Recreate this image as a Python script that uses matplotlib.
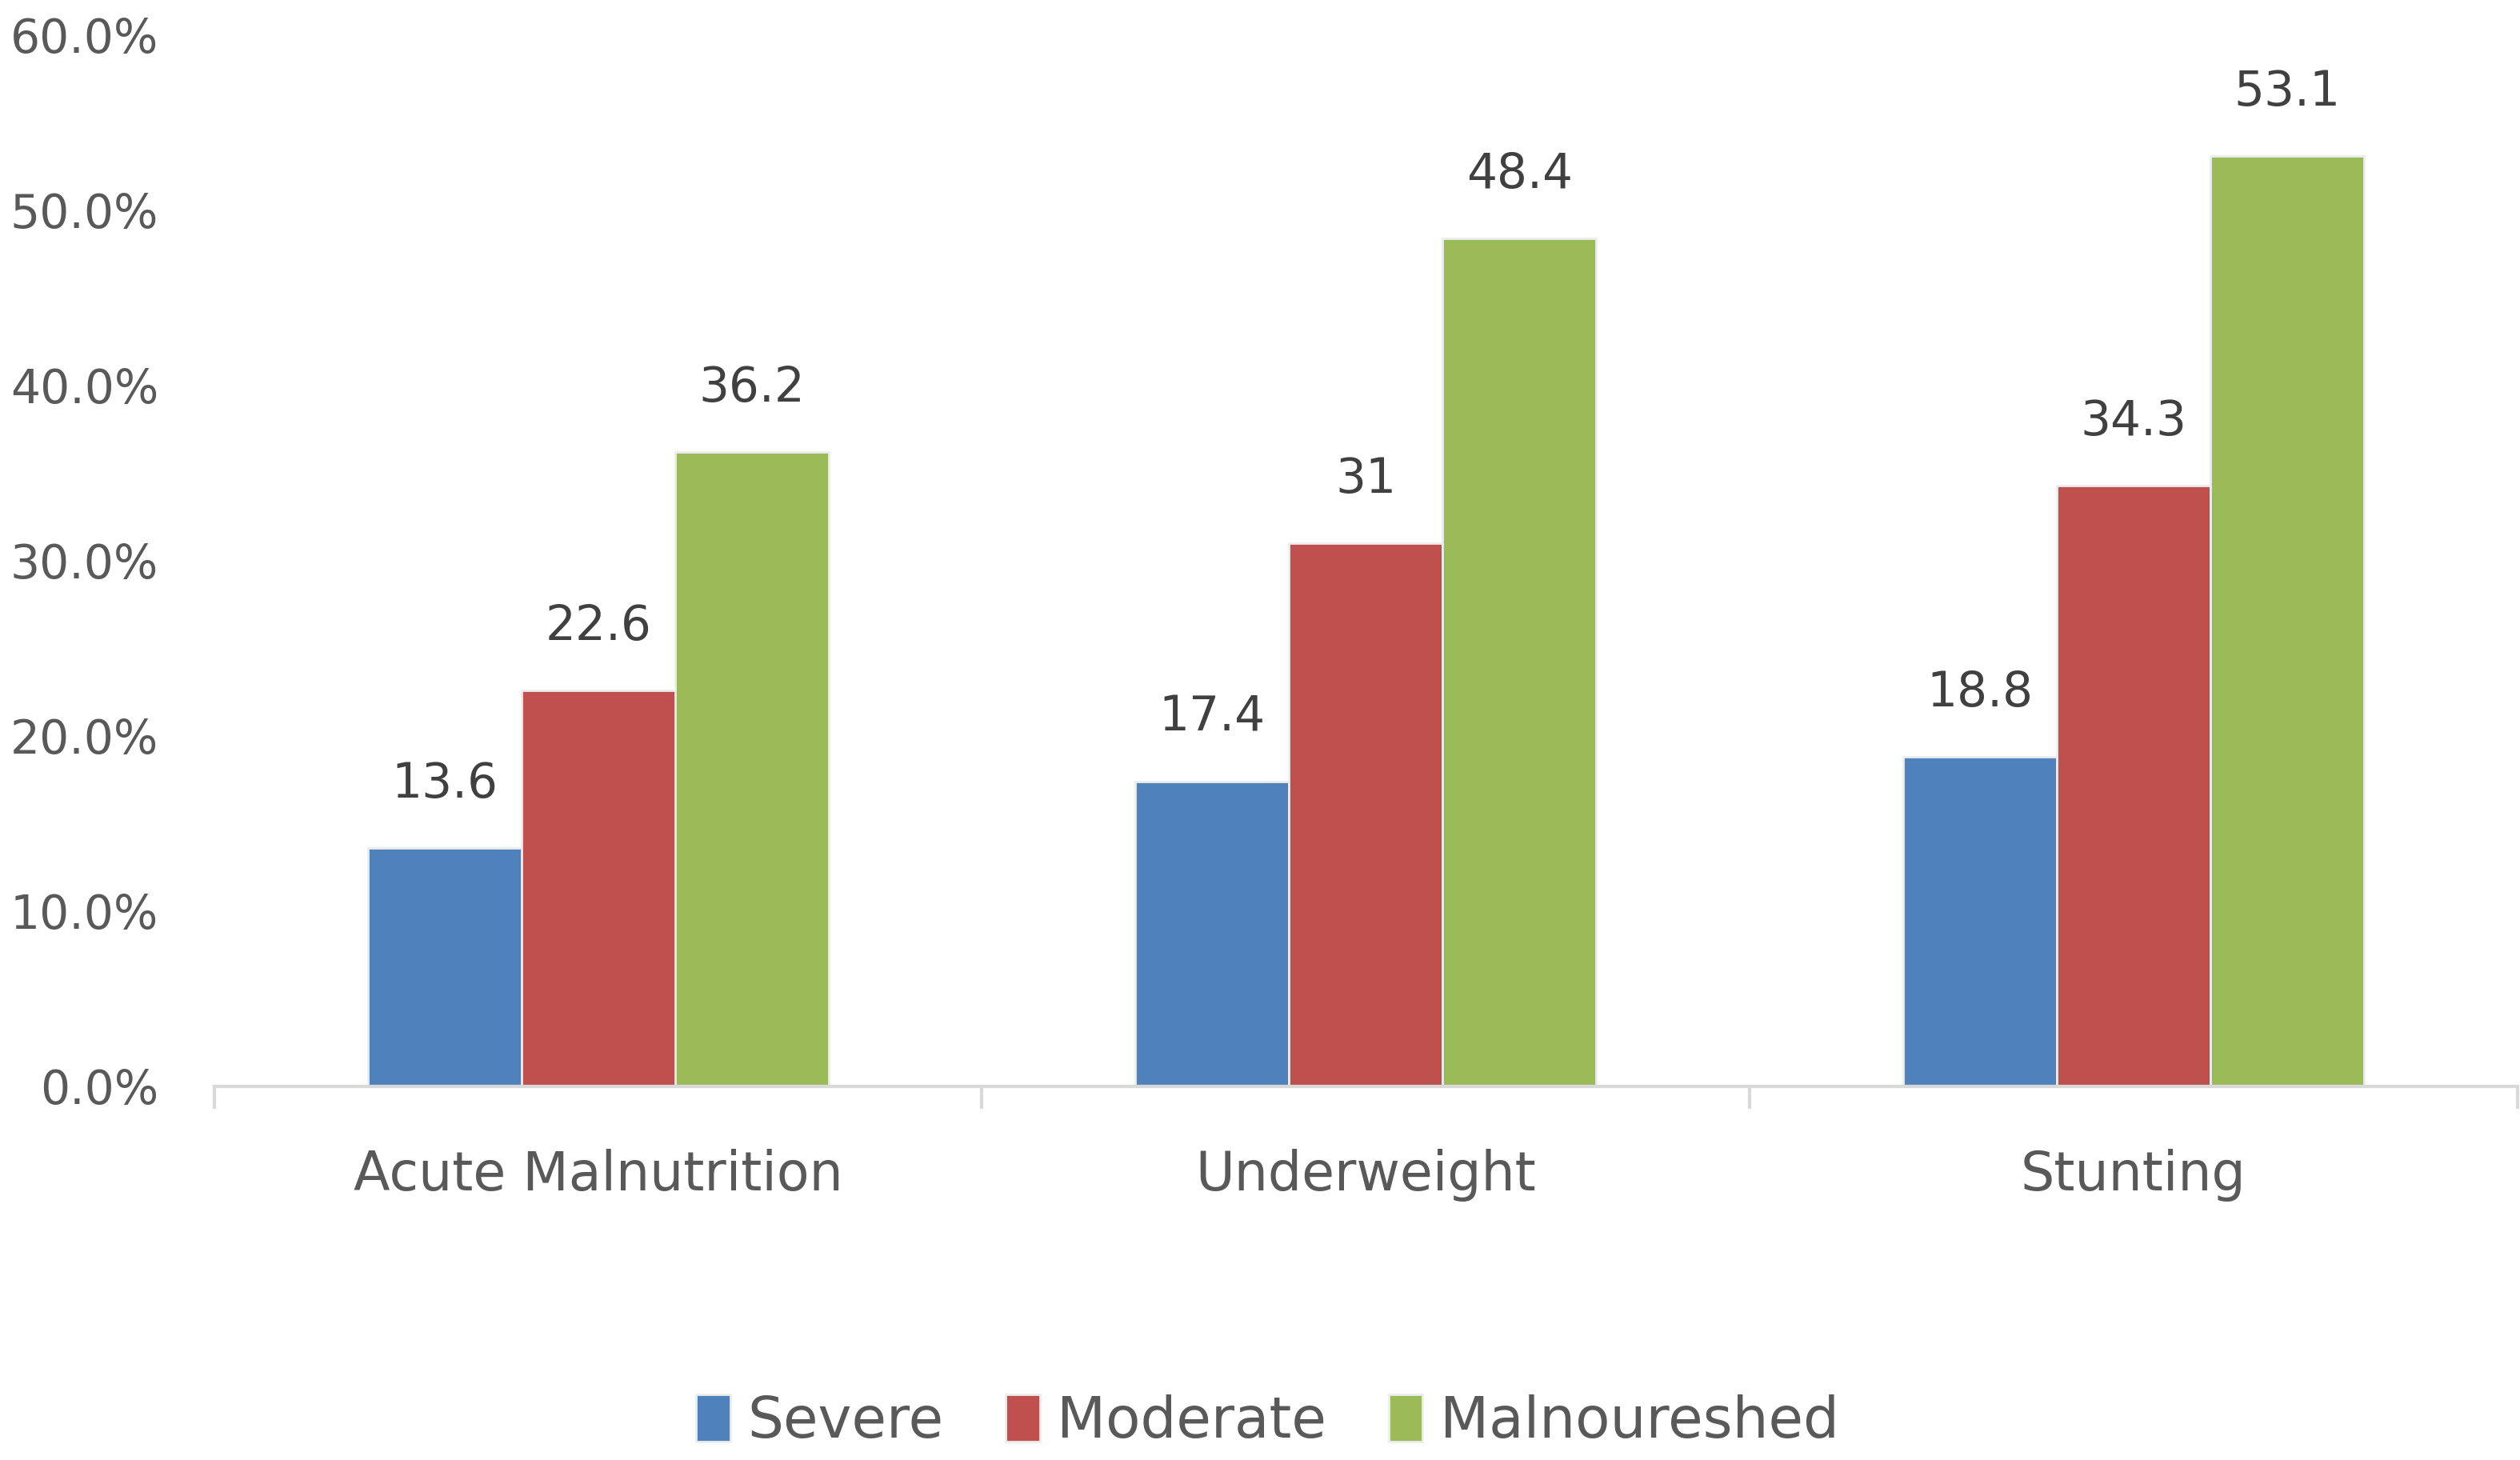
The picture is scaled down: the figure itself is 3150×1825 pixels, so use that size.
import matplotlib
matplotlib.use("Agg")
import matplotlib.pyplot as plt
import numpy as np
from matplotlib.ticker import FuncFormatter, FixedLocator

categorias = ["Acute Malnutrition", "Underweight", "Stunting"]
series = ["Severe", "Moderate", "Malnoureshed"]
severe = [13.6, 17.4, 18.8]
moderate = [22.6, 31.0, 34.3]
malnoureshed = [36.2, 48.4, 53.1]
etiquetas_severe = ["13.6", "17.4", "18.8"]
etiquetas_moderate = ["22.6", "31", "34.3"]
etiquetas_maln = ["36.2", "48.4", "53.1"]

colores = ["#4F81BD", "#C0504D", "#9BBB59"]

plt.rcParams["font.family"] = ["DejaVu Sans"]

fig = plt.figure(figsize=(31.5, 18.25), dpi=100)
ax = fig.add_axes([0.085, 0.256, 0.914, 0.72])

x = np.arange(len(categorias))
w = 0.2
datos = [severe, moderate, malnoureshed]
etiq = [etiquetas_severe, etiquetas_moderate, etiquetas_maln]
for i in range(3):
    barras = ax.bar(x + (i - 1) * w, datos[i], width=w, color=colores[i],
                    edgecolor="#EDEDED", linewidth=2, label=series[i])
    for b, t in zip(barras, etiq[i]):
        ax.annotate(t, (b.get_x() + b.get_width() / 2, b.get_height()),
                    xytext=(0, 36), textcoords="offset points",
                    ha="center", va="bottom", fontsize=43, color="#404040")

ax.set_xlim(-0.5, 2.5)
ax.set_ylim(0, 60)
ax.set_yticks(np.arange(0, 61, 10))
ax.yaxis.set_major_formatter(FuncFormatter(lambda v, p: f"{v:.1f}%"))
ax.tick_params(axis="y", length=0, pad=50, labelsize=42, labelcolor="#595959")

ax.set_xticks(x)
ax.set_xticklabels(categorias)
ax.tick_params(axis="x", which="major", length=0, pad=56, labelsize=48, labelcolor="#595959")
ax.xaxis.set_minor_locator(FixedLocator([-0.5, 0.5, 1.5, 2.5]))
ax.tick_params(axis="x", which="minor", length=20, width=3, color="#D9D9D9")

for s in ["top", "right", "left"]:
    ax.spines[s].set_visible(False)
ax.spines["bottom"].set_color("#D9D9D9")
ax.spines["bottom"].set_linewidth(3)

fig.legend(loc="center", bbox_to_anchor=(0.503, 0.026), ncol=3, frameon=False,
           fontsize=51, labelcolor="#595959", handlelength=0.6, handleheight=0.9,
           handletextpad=0.3, columnspacing=1.1)

fig.savefig("out.png", dpi=100)
